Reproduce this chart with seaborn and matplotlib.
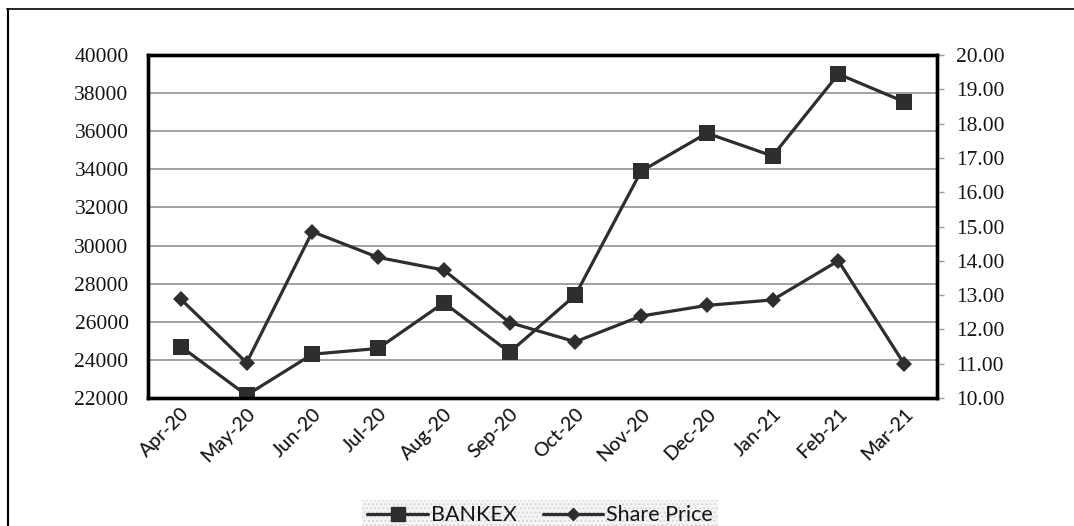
import matplotlib
matplotlib.use("Agg")
import matplotlib.pyplot as plt
from matplotlib.lines import Line2D
import seaborn as sns
import pandas as pd

# ========== DATOS ==========
months = ["Apr-20", "May-20", "Jun-20", "Jul-20", "Aug-20", "Sep-20",
          "Oct-20", "Nov-20", "Dec-20", "Jan-21", "Feb-21", "Mar-21"]
bankex = [24700, 22150, 24300, 24600, 27000, 24400,
          27400, 33900, 35900, 34700, 39000, 37550]
share_price = [12.88, 11.03, 14.85, 14.10, 13.73, 12.20,
               11.64, 12.39, 12.70, 12.86, 14.00, 11.00]
left_ticks = list(range(22000, 40001, 2000))
right_ticks = [10.0 + i for i in range(11)]

df = pd.DataFrame({"mes": months, "bankex": bankex, "precio": share_price})

# ========== ESTILO ==========
sns.set_style("white")
plt.rcParams["font.family"] = ["Lato", "DejaVu Sans"]
dark = "#2e2e2e"
txt = "#151515"

fig = plt.figure(figsize=(10.74, 5.26), dpi=100)
ax = fig.add_axes([0.1378, 0.2433, 0.8724 - 0.1378, 0.8954 - 0.2433])
ax2 = ax.twinx()

sns.lineplot(data=df, x="mes", y="bankex", ax=ax, sort=False, color=dark,
             linewidth=2.3, marker="s", markersize=12, markeredgewidth=0,
             label="BANKEX", legend=False)
sns.lineplot(data=df, x="mes", y="precio", ax=ax2, sort=False, color=dark,
             linewidth=2.3, marker="D", markersize=8, markeredgewidth=0,
             label="Share Price", legend=False)

ax.set_xlim(-0.5, len(months) - 0.5)
ax.set_ylim(22000, 40000)
ax.set_yticks(left_ticks)
ax2.set_ylim(10, 20)
ax2.set_yticks(right_ticks)
ax2.set_yticklabels([f"{v:.2f}" for v in right_ticks])
ax.set_xlabel("")
ax.set_ylabel("")
ax2.set_ylabel("")

ax.yaxis.grid(True, color="#9a9a9a", linewidth=1.3)
ax.xaxis.grid(False)
ax2.grid(False)
ax.set_axisbelow(True)

for a in (ax, ax2):
    for s in a.spines.values():
        s.set_color("black")
        s.set_linewidth(2.4)

ax.tick_params(axis="y", length=0, pad=14, labelsize=15.5, colors=txt)
ax.tick_params(axis="x", length=0, pad=5, labelsize=14, colors=txt)
ax2.tick_params(axis="y", length=5, width=1, color="#9a9a9a", pad=9,
                labelsize=15.5, labelcolor=txt, right=True)
for lbl in ax.get_yticklabels() + ax2.get_yticklabels():
    lbl.set_family(["Liberation Serif", "DejaVu Serif"])
plt.setp(ax.get_xticklabels(), rotation=45, ha="right", rotation_mode="anchor",
         fontweight="medium")

# ========== LEYENDA ==========
handles = [Line2D([], [], color=dark, linewidth=2.3, marker="s", markersize=10),
           Line2D([], [], color=dark, linewidth=2.3, marker="D", markersize=6)]
leg = fig.legend(handles, ["BANKEX", "Share Price"], loc="center",
                 bbox_to_anchor=(0.503, 0.02), ncol=2, fontsize=15.5,
                 frameon=True, fancybox=False, handlelength=2.8,
                 handletextpad=0.15, columnspacing=1.2, borderpad=0.25)
frame = leg.get_frame()
frame.set_facecolor("#f4f4f4")
frame.set_edgecolor("#d0d0d0")
frame.set_hatch("....")
frame.set_linewidth(0)
for t in leg.get_texts():
    t.set_color(txt)

# marco exterior (arriba e izquierda)
fig.add_artist(Line2D([0.0065, 1.0], [0.983, 0.983], color="black", linewidth=1.2,
                      transform=fig.transFigure))
fig.add_artist(Line2D([0.0075, 0.0075], [0.0, 0.983], color="black", linewidth=1.5,
                      transform=fig.transFigure))

fig.savefig("out.png", dpi=100)
plt.close(fig)
